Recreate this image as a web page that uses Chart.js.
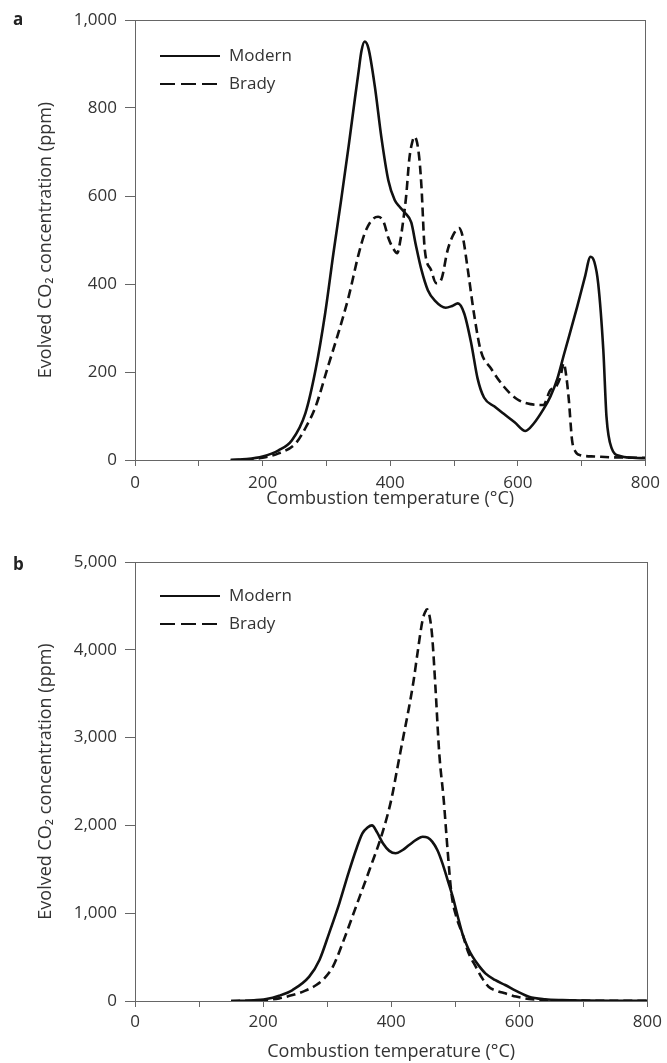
<!DOCTYPE html>
<html>
<head>
<meta charset="utf-8">
<script src="https://cdn.jsdelivr.net/npm/chart.js@4/dist/chart.umd.min.js"></script>
<style>
    body { margin: 0; background: #fff; }
    .panel { position: absolute; left: 0; }
    #panel-a { top: 0; }
    #panel-b { top: 530px; }
</style>
</head>
<body>
<div class="panel" id="panel-a"><canvas id="chart-a" width="667" height="530"></canvas></div>
<div class="panel" id="panel-b"><canvas id="chart-b" width="667" height="533"></canvas></div>
<script>
// Data - panel a
const modernTempA = [150, 175, 200, 225, 246, 267, 283, 298, 311, 323, 335, 345, 350, 355, 360, 366, 376, 386, 397, 407, 415, 423, 433, 440, 449, 459, 470, 487, 497, 506, 516, 527, 537, 547, 563, 578, 595, 612, 625, 640, 651, 662, 672, 693, 705, 714, 720, 726, 734, 739, 747, 760, 780, 800];
const modernA = [0, 2, 8, 22, 45, 106, 205, 333, 470, 590, 715, 825, 878, 930, 951, 935, 848, 735, 636, 591, 575, 562, 540, 490, 432, 386, 362, 346, 350, 356, 333, 265, 185, 142, 122, 105, 86, 66, 83, 115, 144, 185, 238, 348, 415, 462, 450, 401, 250, 98, 27, 9, 5, 4];

const bradyTempA = [150, 175, 200, 225, 252, 268, 283, 303, 319, 335, 350, 360, 371, 381, 390, 397, 405, 411, 416, 420, 425, 430, 435, 438, 442, 446, 449, 454, 464, 472, 480, 490, 500, 508, 514, 521, 532, 542, 558, 578, 599, 620, 640, 651, 660, 667, 672, 676, 680, 685, 690, 698, 720, 750, 800];
const bradyA = [0, 1, 5, 15, 38, 75, 121, 215, 290, 372, 465, 515, 545, 553, 540, 505, 480, 470, 500, 540, 600, 685, 725, 735, 722, 680, 621, 481, 432, 402, 410, 477, 515, 527, 505, 439, 326, 248, 208, 167, 138, 127, 125, 159, 167, 190, 220, 190, 136, 45, 20, 11, 8, 6, 5];

// Data - panel b
const modernTempB = [150, 180, 205, 225, 246, 272, 288, 303, 319, 333, 345, 355, 363, 370, 378, 387, 397, 407, 418, 428, 440, 449, 457, 464, 472, 480, 488, 496, 504, 511, 520, 527, 537, 547, 562, 578, 595, 615, 640, 667, 700, 750, 800];
const modernB = [0, 5, 22, 60, 125, 277, 467, 771, 1113, 1450, 1720, 1910, 1975, 2000, 1920, 1796, 1710, 1682, 1720, 1777, 1840, 1871, 1860, 1815, 1720, 1568, 1380, 1188, 960, 771, 600, 505, 400, 315, 240, 182, 115, 49, 20, 10, 5, 2, 1];

const bradyTempB = [150, 180, 205, 225, 246, 265, 283, 296, 309, 324, 345, 366, 386, 400, 410, 420, 428, 435, 441, 449, 453, 456, 460, 464, 469, 475, 482, 488, 494, 502, 511, 520, 532, 542, 552, 565, 578, 595, 615, 640, 680, 800];
const bradyB = [0, 3, 11, 30, 68, 115, 182, 260, 391, 657, 1074, 1492, 1910, 2289, 2669, 3050, 3352, 3650, 3960, 4340, 4430, 4460, 4380, 4149, 3580, 2821, 2289, 1720, 1227, 950, 771, 560, 391, 260, 163, 115, 87, 50, 23, 10, 5, 2];

// Labels
const seriesNames = ["Modern", "Brady"];
const xTitle = "Combustion temperature (°C)";
const yTitle = "Evolved CO\u2082 concentration (ppm)";

// Style
const ink = "#111";
const axisGrey = "#666";
const textGrey = "#333";
const family = "'Open Sans', 'Noto Sans', sans-serif";

const toPoints = (xs, ys) => xs.map((x, i) => ({x: x, y: ys[i]}));

// Plugin: frame, legend and panel letter
const decorPlugin = {
    id: "decor",
    afterDatasetsDraw(chart, args, opts) {
        const {ctx, chartArea} = chart;
        ctx.save();
        ctx.strokeStyle = axisGrey;
        ctx.lineWidth = 1;
        ctx.strokeRect(Math.round(chartArea.left) + 0.5, Math.round(chartArea.top) + 0.5,
            Math.round(chartArea.right - chartArea.left), Math.round(chartArea.bottom - chartArea.top));

        // legend
        chart.data.datasets.forEach((ds, i) => {
            let y = chartArea.top + opts.legendTop + i * 28;
            ctx.strokeStyle = ink;
            ctx.lineWidth = 2;
            ctx.setLineDash(ds.borderDash && ds.borderDash.length ? [15, 6] : []);
            ctx.beginPath();
            ctx.moveTo(chartArea.left + 25, y);
            ctx.lineTo(chartArea.left + 85, y);
            ctx.stroke();
            ctx.setLineDash([]);
            ctx.fillStyle = textGrey;
            ctx.font = "17px " + family;
            ctx.textBaseline = "middle";
            ctx.textAlign = "left";
            ctx.fillText(ds.label, chartArea.left + 94, y);
        });

        // panel letter
        ctx.fillStyle = "#222";
        ctx.font = "bold 17px " + family;
        ctx.textBaseline = "alphabetic";
        ctx.fillText(opts.letter, 13, opts.letterY);
        ctx.restore();
    }
};

const makeChart = (canvasId, modernPts, bradyPts, yMax, yStep, topPad, xHeight, titlePad, tickPad, letter, letterY, legendTop) => {
    return new Chart(document.getElementById(canvasId), {
        type: "line",
        data: {
            datasets: [
                {
                    label: seriesNames[0],
                    data: modernPts,
                    borderColor: ink,
                    borderWidth: 2.6,
                    pointRadius: 0,
                    tension: 0.4,
                    cubicInterpolationMode: "monotone",
                    fill: false
                },
                {
                    label: seriesNames[1],
                    data: bradyPts,
                    borderColor: ink,
                    borderWidth: 2.6,
                    borderDash: [9, 5],
                    pointRadius: 0,
                    tension: 0.4,
                    cubicInterpolationMode: "monotone",
                    fill: false
                }
            ]
        },
        options: {
            responsive: false,
            animation: false,
            devicePixelRatio: 1,
            layout: {padding: {top: topPad, right: 18, bottom: 0, left: 0}},
            plugins: {
                legend: {display: false},
                tooltip: {enabled: false},
                decor: {letter: letter, letterY: letterY, legendTop: legendTop}
            },
            scales: {
                x: {
                    type: "linear",
                    min: 0,
                    max: 800,
                    afterFit: (s) => { s.height = xHeight; },
                    border: {display: true, color: axisGrey, width: 1},
                    grid: {drawOnChartArea: false, drawTicks: true, tickLength: 6, color: axisGrey},
                    ticks: {
                        stepSize: 100,
                        maxRotation: 0,
                        autoSkip: false,
                        padding: tickPad,
                        color: textGrey,
                        font: {family: family, size: 17},
                        callback: (v) => v % 200 === 0 ? String(v) : ""
                    },
                    title: {
                        display: true,
                        text: xTitle,
                        color: textGrey,
                        font: {family: family, size: 18},
                        padding: {top: 0, bottom: titlePad}
                    }
                },
                y: {
                    min: 0,
                    max: yMax,
                    afterFit: (s) => { s.width = 135; },
                    border: {display: true, color: axisGrey, width: 1},
                    grid: {drawOnChartArea: false, drawTicks: true, tickLength: 10, color: axisGrey},
                    ticks: {
                        stepSize: yStep,
                        padding: 8,
                        color: textGrey,
                        font: {family: family, size: 17},
                        callback: (v) => v.toLocaleString("en-US")
                    },
                    title: {
                        display: true,
                        text: yTitle,
                        color: textGrey,
                        font: {family: family, size: 18},
                        padding: {top: 35, bottom: 0}
                    }
                }
            }
        },
        plugins: [decorPlugin]
    });
};

// Init
Chart.defaults.font.family = family;
makeChart("chart-a", toPoints(modernTempA, modernA), toPoints(bradyTempA, bradyA), 1000, 200, 20, 70, 20, 7, "a", 25, 36);
makeChart("chart-b", toPoints(modernTempB, modernB), toPoints(bradyTempB, bradyB), 5000, 1000, 32, 62, 0, 5, "b", 40, 34);
</script>
</body>
</html>
